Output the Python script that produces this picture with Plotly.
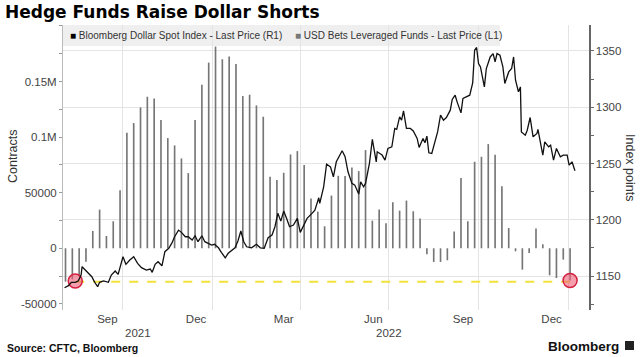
import plotly.graph_objects as go
import pandas as pd

# ---------------- data ----------------
line_dates = [
    "2021-08-02", "2021-08-06", "2021-08-09", "2021-08-13", "2021-08-16", "2021-08-19", "2021-08-20",
    "2021-08-24", "2021-08-27", "2021-08-30", "2021-09-02", "2021-09-05", "2021-09-07", "2021-09-11",
    "2021-09-16", "2021-09-19", "2021-09-23", "2021-09-26", "2021-10-01", "2021-10-04", "2021-10-08",
    "2021-10-12", "2021-10-16", "2021-10-20", "2021-10-25", "2021-10-29", "2021-10-31", "2021-11-03",
    "2021-11-06", "2021-11-10", "2021-11-13", "2021-11-17", "2021-11-20", "2021-11-23", "2021-11-27",
    "2021-11-30", "2021-12-04", "2021-12-07", "2021-12-11", "2021-12-14", "2021-12-17", "2021-12-21",
    "2021-12-24", "2021-12-28", "2021-12-31", "2022-01-03", "2022-01-07", "2022-01-10", "2022-01-14",
    "2022-01-17", "2022-01-21", "2022-01-24", "2022-01-27", "2022-01-30", "2022-02-02", "2022-02-05",
    "2022-02-10", "2022-02-15", "2022-02-19", "2022-02-23", "2022-02-27", "2022-03-03", "2022-03-06",
    "2022-03-09", "2022-03-12", "2022-03-15", "2022-03-18", "2022-03-21", "2022-03-25", "2022-03-29",
    "2022-04-01", "2022-04-04", "2022-04-08", "2022-04-13", "2022-04-16", "2022-04-20", "2022-04-21",
    "2022-04-25", "2022-04-28", "2022-05-02", "2022-05-05", "2022-05-08", "2022-05-14", "2022-05-17",
    "2022-05-20", "2022-05-24", "2022-05-27", "2022-05-31", "2022-06-02", "2022-06-05", "2022-06-07",
    "2022-06-11", "2022-06-14", "2022-06-18", "2022-06-19", "2022-06-24", "2022-06-27", "2022-06-30",
    "2022-07-04", "2022-07-07", "2022-07-09", "2022-07-12", "2022-07-14", "2022-07-16", "2022-07-19",
    "2022-07-23", "2022-07-26", "2022-07-30", "2022-08-01", "2022-08-05", "2022-08-07", "2022-08-09",
    "2022-08-11", "2022-08-14", "2022-08-17", "2022-08-20", "2022-08-23", "2022-08-26", "2022-08-29",
    "2022-09-02", "2022-09-04", "2022-09-07", "2022-09-09", "2022-09-13", "2022-09-15", "2022-09-19",
    "2022-09-22", "2022-09-25", "2022-09-27", "2022-09-29", "2022-10-01", "2022-10-03", "2022-10-07",
    "2022-10-09", "2022-10-13", "2022-10-16", "2022-10-18", "2022-10-20", "2022-10-23", "2022-10-26",
    "2022-10-28", "2022-11-01", "2022-11-04", "2022-11-06", "2022-11-08", "2022-11-11", "2022-11-13",
    "2022-11-14", "2022-11-18", "2022-11-20", "2022-11-23", "2022-11-26", "2022-11-30", "2022-12-01",
    "2022-12-04", "2022-12-06", "2022-12-08", "2022-12-12", "2022-12-14", "2022-12-17", "2022-12-20",
    "2022-12-24", "2022-12-27", "2022-12-31", "2023-01-02", "2023-01-05", "2023-01-08",
]
line_values = [
    1139.6, 1141.4, 1144.4, 1144.4, 1145.6, 1150.9, 1158.3,
    1154.4, 1152.4, 1149.4, 1144.4, 1140.5, 1144.4, 1145.6,
    1144.4, 1150.9, 1154.4, 1151.5, 1167.1, 1160.4, 1164.2,
    1167.1, 1161.3, 1157.4, 1155.3, 1156.2, 1153.3, 1160.4,
    1162.7, 1159.1, 1171.6, 1174.6, 1179.0, 1184.9, 1190.8,
    1188.8, 1184.9, 1184.9, 1182.0, 1185.8, 1180.5, 1185.8,
    1180.5, 1179.0, 1177.5, 1178.2, 1175.1, 1171.0, 1166.2,
    1170.2, 1173.1, 1175.1, 1181.1, 1190.0, 1180.5, 1176.0,
    1175.1, 1178.2, 1175.1, 1174.6, 1184.0, 1186.4, 1193.8,
    1205.7, 1198.8, 1207.7, 1201.2, 1193.8, 1195.3, 1201.2,
    1188.8, 1193.8, 1201.2, 1205.7, 1208.6, 1219.5, 1214.5,
    1229.3, 1249.5, 1247.0, 1238.2, 1251.5, 1261.3, 1256.0,
    1242.6, 1232.3, 1230.8, 1222.8, 1233.7, 1229.3, 1232.3,
    1250.1, 1271.4, 1251.5, 1260.4, 1257.5, 1253.0, 1263.4,
    1264.8, 1281.2, 1280.3, 1291.5, 1288.5, 1296.8, 1281.2,
    1281.2, 1279.0, 1272.3, 1264.3, 1272.3, 1268.4, 1274.3,
    1259.5, 1259.0, 1269.3, 1278.1, 1293.0, 1288.5, 1290.9,
    1297.4, 1306.9, 1310.7, 1304.8, 1295.0, 1307.8, 1309.2,
    1310.7, 1321.7, 1350.7, 1353.1, 1338.9, 1335.9, 1318.1,
    1334.4, 1344.7, 1347.7, 1340.3, 1347.7, 1346.2, 1335.9,
    1321.1, 1331.4, 1334.4, 1344.7, 1324.0, 1313.7, 1318.1,
    1278.1, 1275.2, 1279.6, 1290.9, 1273.7, 1276.7, 1280.3,
    1267.8, 1257.5, 1269.3, 1264.8, 1266.3, 1253.0, 1263.4,
    1256.0, 1257.5, 1257.5, 1248.6, 1251.5, 1243.5,
]

bar_first_date = "2021-08-03"
bar_values = [
    -30000, -28000, -24000, -12000, 15600, 34800, 11100, 24300, 52300, 103900,
    112600, 126700, 136300, 134800, 115300, 99100, 92500, 80800, 67600, 115300,
    147100, 167000, 181400, 170000, 172400, 165800, 136900, 138100, 128500, 118300,
    64300, 61300, 67900, 84400, 87400, 74800, 44700, 33000, 19800, 47400,
    65200, 64900, 72700, 69400, 88300, 24900, 34800, 22500, 41400, 33900,
    42900, 33300, 26700, -5400, -12300, -12300, -10800, 15000, 63100, 24300,
    77800, 82300, 93700, 84100, 55900, 18300, -2700, -19200, -4200, 17700,
    3600, -24300, -26700, -10200, -29000,
]
bar_dates = pd.date_range(bar_first_date, periods=len(bar_values), freq="7D")

highlight_dates = ["2021-08-13", "2023-01-03"]
highlight_values = [-29500, -29000]
threshold_value = -30000

left_tickvals = [-50000, 0, 50000, 100000, 150000]
left_ticktext = ["-50000", "0", "50000", "0.1M", "0.15M"]
right_tickvals = [1150, 1200, 1250, 1300, 1350]
month_tickvals = ["2021-09-15", "2021-12-15", "2022-03-15", "2022-06-15", "2022-09-15", "2022-12-15"]
month_ticktext = ["Sep", "Dec", "Mar", "Jun", "Sep", "Dec"]
year_labels = ["2021", "2022"]
year_label_dates = ["2021-10-16", "2022-07-01"]

# ---------------- layout helpers ----------------
W, H = 640, 357
L, R, T, B = 63, 589, 25, 310


def px_x(p):
    return (p - L) / (R - L)


def px_y(p):
    return (B - p) / (B - T)


FONT = "Liberation Sans, Arial, sans-serif"
TITLE_FONT = "DejaVu Sans, Verdana, sans-serif"

fig = go.Figure()

fig.add_trace(go.Bar(
    x=bar_dates, y=bar_values, width=1.7 * 86400000,
    marker=dict(color="#767676", line=dict(width=0)),
    yaxis="y", hoverinfo="skip",
))
fig.add_trace(go.Scatter(
    x=highlight_dates, y=[threshold_value, threshold_value], mode="lines",
    line=dict(color="#f2e13a", width=2, dash="dash"), yaxis="y", hoverinfo="skip",
))
fig.add_trace(go.Scatter(
    x=highlight_dates, y=highlight_values, mode="markers",
    marker=dict(size=14, color="rgba(238,95,120,0.6)", line=dict(color="#d3213f", width=1.5)),
    yaxis="y", hoverinfo="skip",
))
fig.add_trace(go.Scatter(
    x=line_dates, y=line_values, mode="lines",
    line=dict(color="#111111", width=1.3), yaxis="y2", hoverinfo="skip",
))

fig.update_layout(
    width=W, height=H,
    margin=dict(l=L, r=W - R, t=T, b=H - B, pad=0),
    paper_bgcolor="white", plot_bgcolor="white",
    showlegend=False,
    font=dict(family=FONT, size=11.5, color="#444"),
    title=dict(
        text="<b>Hedge Funds Raise Dollar Shorts</b>",
        x=5 / W, xanchor="left", y=1 - 12 / H, yanchor="middle",
        xref="container", yref="container",
        font=dict(family=TITLE_FONT, size=17, color="#000"),
    ),
    xaxis=dict(
        type="date",
        range=["2021-07-31 10:00", "2023-01-22 10:00"],
        tickmode="array", tickvals=month_tickvals, ticktext=month_ticktext,
        ticks="", showgrid=False, zeroline=False, showline=False,
        tickfont=dict(size=11.5, color="#444"),
        minor=dict(tick0="2021-10-01", dtick="M3", showgrid=True,
                   gridcolor="#e4e4e4", gridwidth=1, ticks=""),
    ),
    yaxis=dict(
        range=[-55500, 200800],
        tickmode="array", tickvals=left_tickvals, ticktext=left_ticktext,
        ticks="outside", ticklen=3, tickcolor="#999",
        showline=True, linecolor="#bbbbbb", linewidth=1,
        showgrid=False, zeroline=False,
        minor=dict(dtick=25000, tick0=0, ticks="outside", ticklen=3, tickcolor="#999"),
        tickfont=dict(size=11.5, color="#444"),
    ),
    yaxis2=dict(
        overlaying="y", side="right",
        range=[1119.8, 1373.1],
        tickmode="array", tickvals=right_tickvals,
        ticks="outside", ticklen=3, tickcolor="#666",
        showline=True, linecolor="#666666", linewidth=1.5,
        showgrid=True, gridcolor="#e4e4e4", gridwidth=1, zeroline=False,
        minor=dict(dtick=25, tick0=1150, ticks="outside", ticklen=3, tickcolor="#666"),
        tickfont=dict(size=11.5, color="#444"),
    ),
)

shapes = [
    # legend band
    dict(type="rect", xref="paper", yref="paper",
         x0=0, x1=px_x(500), y0=px_y(46), y1=px_y(25),
         fillcolor="#efefef", line=dict(width=0), layer="below"),
    # Bloomberg logo mark
    dict(type="rect", xref="paper", yref="paper",
         x0=px_x(625), x1=px_x(634), y0=px_y(350), y1=px_y(341),
         fillcolor="#222", line=dict(width=0)),
]

annotations = [
    dict(text="<span style='color:#000'>■</span> Bloomberg Dollar Spot Index - Last Price (R1)",
         x=px_x(68), y=px_y(35.5), xref="paper", yref="paper",
         xanchor="left", yanchor="middle", showarrow=False,
         font=dict(size=10, color="#333")),
    dict(text="<span style='color:#777'>■</span> USD Bets Leveraged Funds - Last Price (L1)",
         x=px_x(293), y=px_y(35.5), xref="paper", yref="paper",
         xanchor="left", yanchor="middle", showarrow=False,
         font=dict(size=10, color="#333")),
    dict(text="Contracts", x=px_x(13), y=px_y(156), xref="paper", yref="paper",
         textangle=-90, showarrow=False, xanchor="center", yanchor="middle",
         font=dict(size=12.5, color="#333")),
    dict(text="Index points", x=px_x(630), y=px_y(167), xref="paper", yref="paper",
         textangle=90, showarrow=False, xanchor="center", yanchor="middle",
         font=dict(size=12.5, color="#333")),
    dict(text="<b>Source: CFTC, Bloomberg</b>", x=px_x(5), y=px_y(348),
         xref="paper", yref="paper", xanchor="left", yanchor="middle",
         showarrow=False, font=dict(size=10.5, color="#111")),
    dict(text="<b>Bloomberg</b>", x=px_x(621), y=px_y(346),
         xref="paper", yref="paper", xanchor="right", yanchor="middle",
         showarrow=False, font=dict(size=13.5, color="#111")),
]
for lbl, d in zip(year_labels, year_label_dates):
    annotations.append(dict(text=lbl, x=d, y=px_y(333), xref="x", yref="paper",
                            xanchor="center", yanchor="middle", showarrow=False,
                            font=dict(size=11.5, color="#444")))

fig.update_layout(shapes=shapes, annotations=annotations)

fig.write_html(
    "out.html",
    config={"displayModeBar": False, "staticPlot": True},
    post_script="document.body.style.margin='0';document.body.style.overflow='hidden';",
)
